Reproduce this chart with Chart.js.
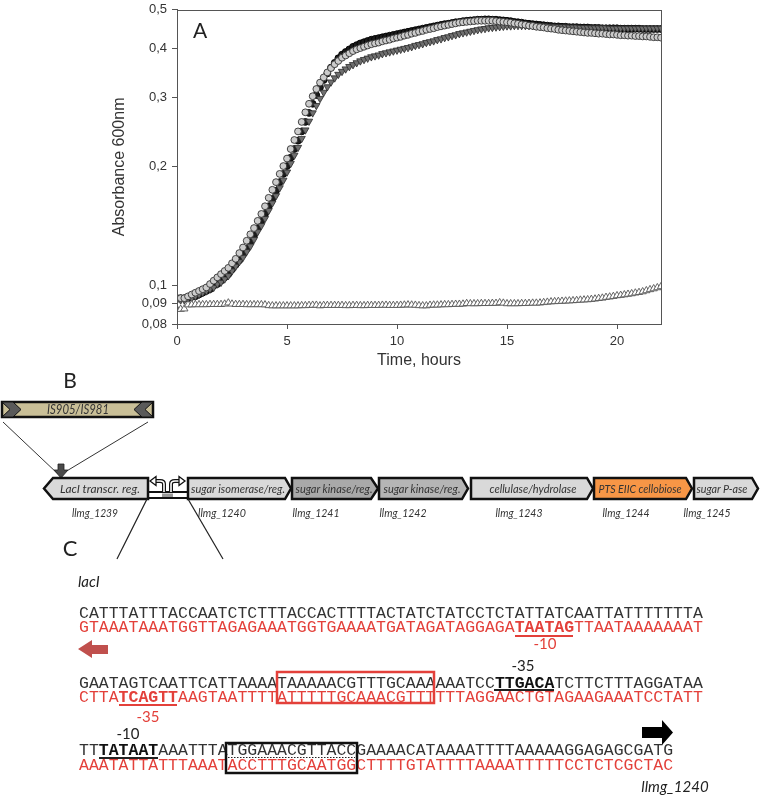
<!DOCTYPE html>
<html><head><meta charset="utf-8">
<script src="https://cdn.jsdelivr.net/npm/chart.js@4"></script>
<style>
html,body{margin:0;padding:0;background:#fff;width:760px;height:795px;overflow:hidden;position:relative}
#wrap{position:absolute;left:0;top:-3px;width:760px;height:375px}
#diag{position:absolute;left:0;top:0}
</style></head><body>
<div id="wrap"><canvas id="c" width="760" height="375"></canvas></div>
<svg id="diag" width="760" height="795" xmlns="http://www.w3.org/2000/svg">
<g font-family="Lato, 'Open Sans', sans-serif" fill="#222">
  <text x="70" y="388" font-size="21" text-anchor="middle">B</text>
  <rect x="2" y="402" width="151" height="15" fill="#c9bf97" stroke="#111" stroke-width="2.5"/>
  <polygon points="2,402 13,402 21,409.5 13,417 2,417 10,409.5" fill="#5a5a5a" stroke="#111" stroke-width="1"/>
  <polygon points="153,402 142,402 134,409.5 142,417 153,417 145,409.5" fill="#5a5a5a" stroke="#111" stroke-width="1"/>
  <text x="78" y="414" font-size="12.5" font-style="italic" text-anchor="middle" fill="#333" textLength="62" lengthAdjust="spacingAndGlyphs">IS905/IS981</text>
  <line x1="3" y1="422" x2="58" y2="474" stroke="#333" stroke-width="1"/>
  <line x1="148" y1="422" x2="65" y2="472" stroke="#333" stroke-width="1"/>
  <polygon points="58,464 64,464 64,470 68,470 61,478 54,470 58,470" fill="#4a4a4a" stroke="#222" stroke-width="0.8"/>
  <g stroke="#111" stroke-width="2.5" stroke-linejoin="miter">
    <polygon points="148,478 53,478 44,488.5 53,499 148,499" fill="#d9d9d9"/>
    <polygon points="188,478 285,478 291,488.5 285,499 188,499" fill="#d9d9d9"/>
    <polygon points="292,478 371,478 378,488.5 371,499 292,499" fill="#a9a9a9"/>
    <polygon points="379,478 462,478 468,488.5 462,499 379,499" fill="#b5b5b5"/>
    <polygon points="471,478 587,478 593,488.5 587,499 471,499" fill="#d9d9d9"/>
    <polygon points="594,478 686,478 692,488.5 686,499 594,499" fill="#f79646"/>
    <polygon points="694,478 752,478 758,488.5 752,499 694,499" fill="#d9d9d9"/>
  </g>
  <line x1="148" y1="492" x2="188" y2="492" stroke="#111" stroke-width="2"/>
  <line x1="148" y1="498" x2="188" y2="498" stroke="#111" stroke-width="2"/>
  <rect x="162" y="493.5" width="11" height="3.5" fill="#999"/>
  <path d="M164,492 L164,484 Q164,481 160,481 L155,481" fill="none" stroke="#111" stroke-width="4"/>
  <path d="M164,492 L164,484 Q164,481 160,481 L155,481" fill="none" stroke="#fff" stroke-width="1.6"/>
  <polygon points="150,481 156,476.5 156,485.5" fill="#fff" stroke="#111" stroke-width="1.3"/>
  <path d="M171,492 L171,484 Q171,481 175,481 L180,481" fill="none" stroke="#111" stroke-width="4"/>
  <path d="M171,492 L171,484 Q171,481 175,481 L180,481" fill="none" stroke="#fff" stroke-width="1.6"/>
  <polygon points="185,481 179,476.5 179,485.5" fill="#fff" stroke="#111" stroke-width="1.3"/>
  <g font-size="12" font-style="italic" text-anchor="middle" fill="#333">
    <text x="100" y="492.5" textLength="80" lengthAdjust="spacingAndGlyphs">LacI transcr. reg.</text>
    <text x="238" y="492.5" textLength="94" lengthAdjust="spacingAndGlyphs">sugar isomerase/reg.</text>
    <text x="334" y="492.5" textLength="77" lengthAdjust="spacingAndGlyphs">sugar kinase/reg.</text>
    <text x="422" y="492.5" textLength="77" lengthAdjust="spacingAndGlyphs">sugar kinase/reg.</text>
    <text x="533" y="492.5" textLength="87" lengthAdjust="spacingAndGlyphs">cellulase/hydrolase</text>
    <text x="640" y="492.5" textLength="83" lengthAdjust="spacingAndGlyphs">PTS EIIC cellobiose</text>
    <text x="722" y="492.5" textLength="51" lengthAdjust="spacingAndGlyphs">sugar P-ase</text>
  </g>
  <g font-size="12" font-style="italic" text-anchor="middle" fill="#333">
    <text x="95" y="517" textLength="46" lengthAdjust="spacingAndGlyphs">llmg_1239</text>
    <text x="222" y="517" textLength="48" lengthAdjust="spacingAndGlyphs">llmg_1240</text>
    <text x="316" y="517" textLength="47" lengthAdjust="spacingAndGlyphs">llmg_1241</text>
    <text x="403" y="517" textLength="47" lengthAdjust="spacingAndGlyphs">llmg_1242</text>
    <text x="519" y="517" textLength="47" lengthAdjust="spacingAndGlyphs">llmg_1243</text>
    <text x="626" y="517" textLength="47" lengthAdjust="spacingAndGlyphs">llmg_1244</text>
    <text x="707" y="517" textLength="47" lengthAdjust="spacingAndGlyphs">llmg_1245</text>
  </g>
  <text x="70" y="556" font-size="22" text-anchor="middle">C</text>
  <line x1="147" y1="499" x2="117" y2="559" stroke="#222" stroke-width="1.2"/>
  <line x1="188" y1="499" x2="223" y2="559" stroke="#222" stroke-width="1.2"/>
  <text x="78" y="587" font-size="15" font-style="italic">lacI</text>
  <polygon points="78,649 92,640 92,645 108,645 108,654 92,654 92,658" fill="#c0504d"/>
  <polygon points="642,727 662,727 662,720 673,732.5 662,745 662,738 642,738" fill="#000"/>
  <text x="675" y="792" font-size="15" font-style="italic" text-anchor="middle">llmg_1240</text>
  <g font-size="15" text-anchor="middle">
    <text x="545" y="649" fill="#e3403a">-10</text>
    <text x="523" y="671" fill="#222">-35</text>
    <text x="148" y="722" fill="#e3403a">-35</text>
    <text x="128" y="739" fill="#222">-10</text>
  </g>
</g>
<g font-family="'Liberation Mono', 'DejaVu Sans Mono', monospace" font-size="16.5">
  <text x="79" y="618" fill="#333">CATTTATTTACCAATCTCTTTACCACTTTTACTATCTATCCTCTATTATCAATTATTTTTTTA</text>
  <text x="79" y="632" fill="#e3403a">GTAAATAAATGGTTAGAGAAATGGTGAAAATGATAGATAGGAGA<tspan font-weight="bold">TAATAG</tspan>TTAATAAAAAAAT</text>
  <text x="79" y="688" fill="#333">GAATAGTCAATTCATTAAAATAAAAACGTTTGCAAAAAATCC<tspan font-weight="bold" fill="#111">TTGACA</tspan>TCTTCTTTAGGATAA</text>
  <text x="79" y="702" fill="#e3403a">CTTA<tspan font-weight="bold">TCAGTT</tspan>AAGTAATTTTATTTTTGCAAACGTTTTTTAGGAACTGTAGAAGAAATCCTATT</text>
  <text x="79" y="755" fill="#333">TT<tspan font-weight="bold" fill="#111">TATAAT</tspan>AAATTTATGGAAACGTTACCGAAAACATAAAATTTTAAAAAGGAGAGCGATG</text>
  <text x="79" y="770" fill="#e3403a">AAATATTATTTAAATACCTTTGCAATGGCTTTTGTATTTTAAAATTTTTCCTCTCGCTAC</text>
</g>
<line x1="515" y1="636" x2="573" y2="636" stroke="#e3403a" stroke-width="2"/>
<line x1="119" y1="705" x2="177" y2="705" stroke="#e3403a" stroke-width="2"/>
<line x1="494" y1="690" x2="554" y2="690" stroke="#222" stroke-width="2"/>
<line x1="99" y1="758" x2="158" y2="758" stroke="#222" stroke-width="2"/>
<rect x="277" y="672" width="157" height="31" fill="none" stroke="#e3403a" stroke-width="2.5"/>
<rect x="226" y="743" width="131" height="30" fill="none" stroke="#111" stroke-width="2.5"/>
<line x1="228" y1="757.5" x2="355" y2="757.5" stroke="#222" stroke-width="1" stroke-dasharray="1.5,1.5"/>
</svg>
<script>
// sampling times in minutes (every 10 min, 0-22 h)
const timesMin = [0,10,20,30,40,50,60,70,80,90,100,110,120,130,140,150,160,170,180,190,200,210,220,230,240,250,260,270,280,290,300,310,320,330,340,350,360,370,380,390,400,410,420,430,440,450,460,470,480,490,500,510,520,530,540,550,560,570,580,590,600,610,620,630,640,650,660,670,680,690,700,710,720,730,740,750,760,770,780,790,800,810,820,830,840,850,860,870,880,890,900,910,920,930,940,950,960,970,980,990,1000,1010,1020,1030,1040,1050,1060,1070,1080,1090,1100,1110,1120,1130,1140,1150,1160,1170,1180,1190,1200,1210,1220,1230,1240,1250,1260,1270,1280,1290,1300,1310,1320];
const grayCircles = [0.093,0.093,0.093,0.094,0.095,0.096,0.097,0.098,0.099,0.101,0.103,0.105,0.107,0.109,0.111,0.114,0.117,0.121,0.125,0.130,0.135,0.140,0.146,0.152,0.159,0.167,0.175,0.183,0.192,0.201,0.210,0.222,0.234,0.246,0.260,0.275,0.289,0.302,0.315,0.327,0.337,0.347,0.356,0.364,0.371,0.378,0.383,0.388,0.393,0.397,0.400,0.403,0.406,0.409,0.411,0.413,0.416,0.418,0.420,0.423,0.425,0.427,0.430,0.432,0.435,0.437,0.440,0.442,0.445,0.447,0.449,0.452,0.454,0.456,0.458,0.460,0.462,0.464,0.465,0.466,0.467,0.468,0.469,0.469,0.469,0.469,0.469,0.468,0.467,0.466,0.465,0.464,0.462,0.461,0.459,0.458,0.456,0.455,0.453,0.452,0.451,0.449,0.448,0.447,0.445,0.444,0.443,0.442,0.441,0.440,0.439,0.438,0.437,0.437,0.436,0.435,0.435,0.434,0.433,0.433,0.432,0.431,0.431,0.430,0.430,0.429,0.429,0.428,0.428,0.427,0.426,0.426,0.425];
const blackCircles = [0.093,0.093,0.093,0.093,0.094,0.094,0.095,0.096,0.097,0.098,0.100,0.101,0.103,0.105,0.107,0.110,0.113,0.116,0.120,0.124,0.129,0.134,0.140,0.146,0.152,0.159,0.166,0.174,0.183,0.192,0.201,0.211,0.222,0.233,0.246,0.260,0.274,0.289,0.304,0.318,0.332,0.345,0.357,0.367,0.377,0.385,0.391,0.397,0.403,0.407,0.411,0.414,0.417,0.420,0.422,0.424,0.426,0.428,0.430,0.432,0.434,0.436,0.438,0.440,0.442,0.444,0.446,0.448,0.450,0.452,0.454,0.456,0.458,0.460,0.461,0.463,0.465,0.466,0.468,0.469,0.470,0.471,0.472,0.472,0.473,0.473,0.472,0.472,0.471,0.470,0.469,0.468,0.466,0.465,0.464,0.462,0.461,0.460,0.459,0.458,0.457,0.456,0.455,0.454,0.454,0.453,0.453,0.452,0.452,0.452,0.451,0.451,0.451,0.450,0.450,0.450,0.449,0.449,0.449,0.449,0.449,0.448,0.448,0.448,0.448,0.448,0.448,0.447,0.447,0.447,0.447,0.447,0.447];
const grayTriangles = [0.092,0.092,0.092,0.093,0.093,0.094,0.095,0.096,0.097,0.098,0.099,0.101,0.102,0.104,0.106,0.109,0.112,0.115,0.118,0.122,0.126,0.131,0.137,0.142,0.148,0.155,0.162,0.169,0.177,0.185,0.194,0.204,0.214,0.224,0.236,0.248,0.261,0.274,0.286,0.298,0.309,0.319,0.328,0.336,0.343,0.349,0.354,0.359,0.363,0.367,0.371,0.374,0.377,0.380,0.382,0.384,0.387,0.389,0.391,0.393,0.395,0.397,0.399,0.401,0.403,0.406,0.408,0.410,0.413,0.415,0.417,0.420,0.422,0.425,0.427,0.430,0.432,0.435,0.437,0.439,0.441,0.443,0.445,0.447,0.448,0.450,0.451,0.452,0.453,0.454,0.455,0.455,0.456,0.456,0.456,0.456,0.456,0.456,0.455,0.455,0.455,0.454,0.454,0.454,0.453,0.453,0.453,0.452,0.452,0.452,0.451,0.451,0.451,0.450,0.450,0.450,0.450,0.450,0.449,0.449,0.449,0.449,0.449,0.449,0.449,0.449,0.449,0.449,0.449,0.449,0.449,0.449,0.449];
const openTriangles = [0.0872,0.0872,0.0874,0.0895,0.0895,0.0896,0.0896,0.0896,0.0896,0.0897,0.0897,0.0897,0.0897,0.0899,0.0905,0.0899,0.0897,0.0897,0.0897,0.0896,0.0896,0.0896,0.0896,0.0896,0.0895,0.0891,0.0890,0.0890,0.0890,0.0890,0.0890,0.0890,0.0890,0.0890,0.0891,0.0891,0.0892,0.0893,0.0893,0.0890,0.0892,0.0892,0.0892,0.0892,0.0892,0.0892,0.0891,0.0891,0.0892,0.0892,0.0891,0.0891,0.0892,0.0892,0.0892,0.0892,0.0893,0.0893,0.0892,0.0892,0.0892,0.0893,0.0894,0.0895,0.0894,0.0893,0.0891,0.0890,0.0890,0.0893,0.0894,0.0894,0.0895,0.0896,0.0896,0.0897,0.0898,0.0898,0.0899,0.0902,0.0901,0.0901,0.0901,0.0902,0.0902,0.0902,0.0903,0.0903,0.0906,0.0904,0.0901,0.0901,0.0901,0.0901,0.0902,0.0902,0.0903,0.0904,0.0904,0.0905,0.0907,0.0909,0.0911,0.0912,0.0913,0.0914,0.0915,0.0916,0.0917,0.0918,0.0920,0.0921,0.0922,0.0924,0.0926,0.0929,0.0931,0.0935,0.0937,0.0940,0.0944,0.0946,0.0949,0.0952,0.0955,0.0959,0.0962,0.0966,0.0972,0.0978,0.0983,0.0989,0.0995];
const xTicks = [0,5,10,15,20];
const yTicks = [0.08,0.09,0.1,0.2,0.3,0.4,0.5];
const xTitle = 'Time, hours';
const yTitle = 'Absorbance 600nm';
const panelLabel = 'A';

const pts = arr => timesMin.map((m,i)=>({x:m/60,y:arr[i]}));
const FONT = "'Liberation Sans', Arial, sans-serif";

const frame = {
  id:'frame',
  afterDraw(chart){
    const {ctx, chartArea:a} = chart;
    ctx.save();
    ctx.strokeStyle = '#555'; ctx.lineWidth = 1;
    ctx.strokeRect(Math.round(a.left)+0.5, Math.round(a.top)+0.5, Math.round(a.right-a.left), Math.round(a.bottom-a.top));
    ctx.fillStyle = '#222';
    ctx.font = "21px Lato, 'Open Sans', sans-serif";
    ctx.textBaseline = 'middle';
    ctx.fillText(panelLabel, a.left + 16, a.top + 21);
    ctx.restore();
  }
};

new Chart(document.getElementById('c'), {
  type:'scatter',
  data:{datasets:[
    {label:'gray circles', data:pts(grayCircles), pointStyle:'circle', pointRadius:3.4, backgroundColor:'#cbcbcb', borderColor:'#333', borderWidth:0.9, order:0},
    {label:'open triangles', data:pts(openTriangles), pointStyle:'triangle', pointRadius:4.2, backgroundColor:'#fff', borderColor:'#555', borderWidth:0.9, order:0},
    {label:'gray triangles', data:pts(grayTriangles), pointStyle:'triangle', pointRotation:180, pointRadius:4.2, backgroundColor:'#6f6f6f', borderColor:'#2a2a2a', borderWidth:0.8, order:1},
    {label:'black circles', data:pts(blackCircles), pointStyle:'circle', pointRadius:3.4, backgroundColor:'#1c1c1c', borderColor:'#000', borderWidth:0.9, order:2}
  ]},
  options:{
    responsive:false, animation:false, devicePixelRatio:1,
    layout:{padding:{left:0,right:99,top:0,bottom:0}},
    plugins:{legend:{display:false}, tooltip:{enabled:false}},
    elements:{point:{hoverRadius:4}},
    scales:{
      x:{type:'linear', min:0, max:22,
        afterBuildTicks:s=>{s.ticks = xTicks.map(v=>({value:v}));},
        ticks:{font:{family:FONT,size:13}, color:'#333', padding:5, maxRotation:0, autoSkip:false},
        grid:{drawOnChartArea:false, drawTicks:true, tickLength:5, color:'#555'},
        border:{display:true, color:'#555'},
        title:{display:true, text:xTitle, font:{family:FONT,size:16}, color:'#333', padding:{top:0,bottom:2}},
        afterFit:s=>{s.height = 48;}
      },
      y:{type:'logarithmic', min:0.08, max:0.5,
        afterBuildTicks:s=>{s.ticks = yTicks.map(v=>({value:v}));},
        ticks:{font:{family:FONT,size:13}, color:'#333', padding:5, autoSkip:false,
          callback:v=>String(v).replace('.',',')},
        grid:{drawOnChartArea:false, drawTicks:true, tickLength:5, color:'#555'},
        border:{display:true, color:'#555'},
        title:{display:true, text:yTitle, font:{family:FONT,size:16}, color:'#333', padding:{top:110,bottom:0}},
        afterFit:s=>{s.width = 177;}
      }
    }
  },
  plugins:[frame]
});
</script>
</body></html>
